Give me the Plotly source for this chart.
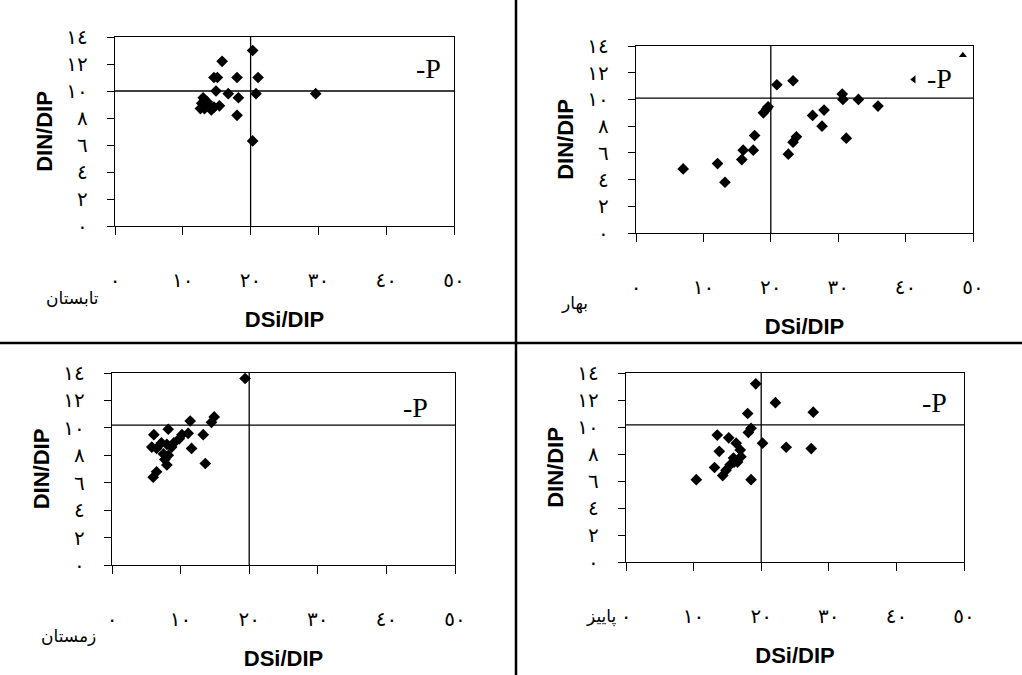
import plotly.graph_objects as go

# DSi/DIP (x) and DIN/DIP (y) ratios per season
summer_x = [20.3, 15.8, 14.6, 15.1, 18.0, 21.1, 14.9, 16.7, 18.2, 20.8, 29.6, 18.0, 20.3,
            13.0, 12.8, 13.2, 14.0, 14.6, 15.4, 12.6, 13.6, 14.2]
summer_y = [13.0, 12.2, 11.0, 11.0, 11.0, 11.0, 10.0, 9.8, 9.5, 9.8, 9.8, 8.2, 6.3,
            9.5, 9.1, 8.7, 8.9, 8.8, 8.9, 8.7, 9.2, 8.6]

spring_x = [7.0, 12.1, 13.2, 15.7, 15.9, 17.4, 17.6, 18.9, 19.4, 19.6, 20.9, 23.3, 22.6,
            23.3, 23.8, 26.2, 27.9, 27.6, 30.6, 30.7, 31.2, 33.0, 35.9]
spring_y = [4.8, 5.2, 3.8, 5.5, 6.2, 6.2, 7.3, 9.0, 9.3, 9.45, 11.1, 11.4, 5.9,
            6.8, 7.2, 8.8, 9.2, 8.0, 10.4, 10.0, 7.1, 10.0, 9.5]
spring_extra_x = [41.2, 48.5]
spring_extra_y = [11.5, 13.3]

winter_x = [19.4, 14.9, 14.5, 11.4, 8.2, 6.1, 10.2, 9.8, 11.1, 13.3, 11.6, 13.6, 7.2, 8.0,
            8.7, 6.5, 5.8, 7.5, 8.2, 7.7, 8.0, 6.5, 6.0, 9.0]
winter_y = [13.6, 10.8, 10.4, 10.5, 9.9, 9.5, 9.5, 9.2, 9.6, 9.5, 8.5, 7.4, 8.9, 8.8,
            8.6, 8.5, 8.6, 8.1, 8.0, 7.7, 7.3, 6.8, 6.4, 8.9]

autumn_x = [19.2, 22.1, 27.7, 18.0, 18.5, 18.1, 20.2, 23.7, 27.4, 13.5, 15.2, 16.3, 16.9,
            13.8, 15.9, 16.5, 15.4, 16.0, 13.1, 14.3, 10.4, 18.5, 14.8, 17.0]
autumn_y = [13.2, 11.8, 11.1, 11.0, 9.9, 9.6, 8.8, 8.5, 8.4, 9.4, 9.2, 8.8, 8.3,
            8.2, 7.7, 7.4, 7.2, 7.4, 7.0, 6.4, 6.1, 6.1, 6.8, 7.8]

season_names = ["تابستان", "بهار", "زمستان", "پاییز"]

# reference lines (DSi/DIP and DIN/DIP thresholds)
v_line = 20
h_lines = [10.0, 10.1, 10.2, 10.15]

x_tickvals = [0, 10, 20, 30, 40, 50]
x_ticktext = ["٠", "١٠", "٢٠", "٣٠", "٤٠", "٥٠"]
y_tickvals = [0, 2, 4, 6, 8, 10, 12, 14]
y_ticktext = ["٠", "٢", "٤", "٦", "٨", "١٠", "١٢", "١٤"]

W, H = 1022, 675
# plot boxes in pixels: left, right, top, bottom
boxes = [(115, 454, 37, 226), (636, 973, 46, 233), (112, 455, 373, 565), (626, 964, 373, 562)]
# season label: right edge x, centre y (pixels)
season_pos = [(101, 298), (590, 303), (98, 636), (618, 616)]
p_pos = [(46.3, 11.7), (45.1, 11.6), (44.2, 11.5), (45.6, 11.8)]

series = [(summer_x, summer_y), (spring_x, spring_y), (winter_x, winter_y), (autumn_x, autumn_y)]

digit_font = dict(family="DejaVu Sans", size=20, color="black")
title_font = dict(family="Liberation Sans", size=22, color="black")

fig = go.Figure()
layout = dict(width=W, height=H, margin=dict(l=0, r=0, t=0, b=0, autoexpand=False),
              paper_bgcolor="white", plot_bgcolor="white", showlegend=False)
shapes = []
annotations = []

for i, ((xs, ys), (l, r, t, b)) in enumerate(zip(series, boxes)):
    n = "" if i == 0 else str(i + 1)
    xa, ya = "x" + n, "y" + n
    fig.add_trace(go.Scatter(x=xs, y=ys, mode="markers", xaxis=xa, yaxis=ya,
                             marker=dict(symbol="diamond", size=9, color="black"),
                             cliponaxis=False))
    layout["xaxis" + n] = dict(domain=[l / W, r / W], range=[0, 50], anchor=ya, automargin=False,
                               tickvals=x_tickvals, ticktext=x_ticktext, tickfont=digit_font,
                               ticks="outside", ticklen=8, tickwidth=1.3, tickcolor="black",
                               ticklabelstandoff=28,
                               showline=True, mirror=True, linecolor="black", linewidth=1.3,
                               showgrid=False, zeroline=False,
                               title=dict(text="<b>DSi/DIP</b>", font=title_font, standoff=20))
    layout["yaxis" + n] = dict(domain=[1 - b / H, 1 - t / H], range=[0, 14], anchor=xa, automargin=False,
                               tickvals=y_tickvals, ticktext=y_ticktext, tickfont=digit_font,
                               ticks="outside", ticklen=7, tickwidth=1.3, tickcolor="black",
                               ticklabelstandoff=15,
                               showline=True, mirror=True, linecolor="black", linewidth=1.3,
                               showgrid=False, zeroline=False,
                               title=dict(text="<b>DIN/DIP</b>", font=title_font, standoff=7))
    shapes.append(dict(type="line", xref=xa, yref=ya, x0=0, x1=50, y0=h_lines[i], y1=h_lines[i],
                       line=dict(color="black", width=1.3)))
    shapes.append(dict(type="line", xref=xa, yref=ya, x0=v_line, x1=v_line, y0=0, y1=14,
                       line=dict(color="black", width=1.3)))
    annotations.append(dict(text="-P", xref=xa, yref=ya, x=p_pos[i][0], y=p_pos[i][1],
                            showarrow=False, font=dict(family="Liberation Serif", size=28, color="black")))
    sx, sy = season_pos[i]
    annotations.append(dict(text=season_names[i], xref="paper", yref="paper", x=sx / W, y=1 - sy / H,
                            xanchor="right", yanchor="middle", showarrow=False,
                            font=dict(family="DejaVu Sans", size=17, color="black")))

# stray marks near the spring legend
fig.add_trace(go.Scatter(x=spring_extra_x, y=spring_extra_y, mode="markers", xaxis="x2", yaxis="y2",
                         marker=dict(symbol=["triangle-left", "triangle-up"], size=7, color="black"),
                         cliponaxis=False))

# panel dividers
shapes.append(dict(type="line", xref="paper", yref="paper", x0=516 / W, x1=516 / W, y0=0, y1=1,
                   line=dict(color="black", width=2.5)))
shapes.append(dict(type="line", xref="paper", yref="paper", x0=0, x1=1, y0=1 - 343 / H, y1=1 - 343 / H,
                   line=dict(color="black", width=2.5)))

layout["shapes"] = shapes
layout["annotations"] = annotations
fig.update_layout(**layout)
fig.write_html("out.html")
